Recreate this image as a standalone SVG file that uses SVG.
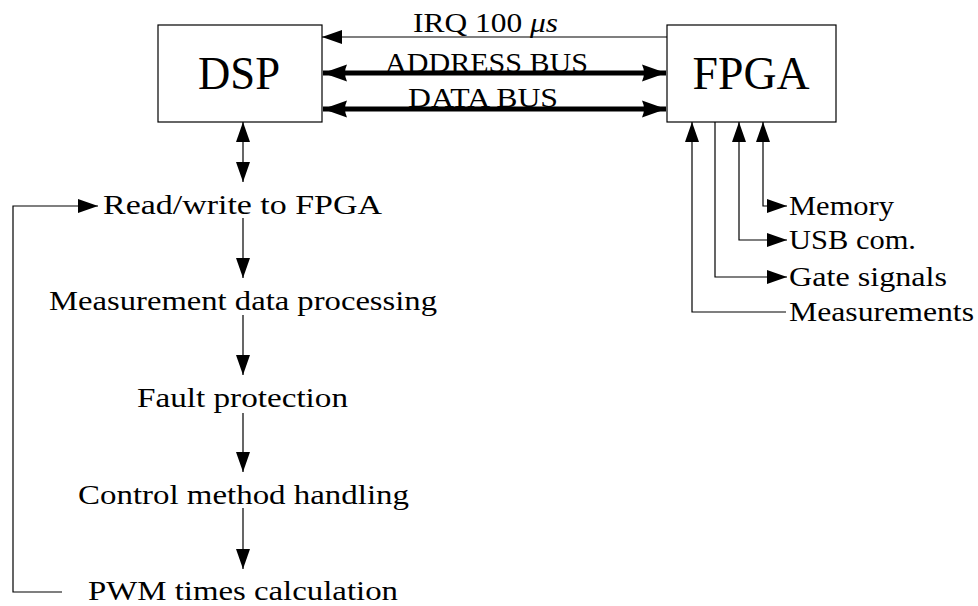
<svg xmlns="http://www.w3.org/2000/svg" width="978" height="606" viewBox="0 0 978 606">
<style>
text{font-family:"Liberation Serif","Times New Roman",serif;fill:#000}
.big{font-size:46px}
.t{font-size:28px}
.box{fill:#fff;stroke:#000;stroke-width:1.2}
.thin{fill:none;stroke:#000;stroke-width:1.2}
.bus{fill:none;stroke:#000;stroke-width:5}
</style>
<defs>
<marker id="ah" markerUnits="userSpaceOnUse" markerWidth="21" markerHeight="15" refX="20" refY="7.5" orient="auto-start-reverse" viewBox="0 0 21 15">
<path d="M0,0.5 L20,7.5 L0,14.5 z" fill="#000"/>
</marker>
<marker id="bh" markerUnits="userSpaceOnUse" markerWidth="25" markerHeight="19" refX="24" refY="9.5" orient="auto-start-reverse" viewBox="0 0 25 19">
<path d="M0,1 Q4,9.5 0,18 L24,9.5 z" fill="#000"/>
</marker>
</defs>
<rect width="978" height="606" fill="#fff"/>
<g id="dsp">
<rect class="box" x="158" y="25" width="164" height="97"/>
<text class="big" x="239" y="89" text-anchor="middle" textLength="82" lengthAdjust="spacingAndGlyphs">DSP</text>
</g>
<g id="fpga">
<rect class="box" x="667" y="25" width="169" height="97"/>
<text class="big" x="751" y="89" text-anchor="middle" textLength="117" lengthAdjust="spacingAndGlyphs">FPGA</text>
</g>
<g id="connectors">
<line class="thin" x1="667" y1="37" x2="322" y2="37" marker-end="url(#ah)"/>
<line class="bus" x1="323" y1="73" x2="666" y2="73" marker-start="url(#bh)" marker-end="url(#bh)"/>
<line class="bus" x1="323" y1="109" x2="666" y2="109" marker-start="url(#bh)" marker-end="url(#bh)"/>
<line class="thin" x1="243" y1="122" x2="243" y2="182" marker-start="url(#ah)" marker-end="url(#ah)"/>
<line class="thin" x1="243" y1="218" x2="243" y2="278" marker-end="url(#ah)"/>
<line class="thin" x1="243" y1="315" x2="243" y2="375" marker-end="url(#ah)"/>
<line class="thin" x1="243" y1="413" x2="243" y2="472" marker-end="url(#ah)"/>
<line class="thin" x1="243" y1="508" x2="243" y2="569" marker-end="url(#ah)"/>
<polyline class="thin" points="62,592 13,592 13,206 98,206" marker-end="url(#ah)"/>
<polyline class="thin" points="692,122 692,312 786,312" marker-start="url(#ah)"/>
<polyline class="thin" points="715,122 715,277 787,277" marker-end="url(#ah)"/>
<polyline class="thin" points="739,122 739,240 787,240" marker-start="url(#ah)" marker-end="url(#ah)"/>
<polyline class="thin" points="763,122 763,206 787,206" marker-start="url(#ah)" marker-end="url(#ah)"/>
<text class="t" x="413" y="32" textLength="145" lengthAdjust="spacingAndGlyphs">IRQ 100 <tspan font-style="italic">μs</tspan></text>
<text class="t" x="385" y="72" textLength="203" lengthAdjust="spacingAndGlyphs">ADDRESS BUS</text>
<text class="t" x="408" y="107" textLength="150" lengthAdjust="spacingAndGlyphs">DATA BUS</text>
</g>
<g id="readwrite"><text class="t" x="103" y="214" textLength="279" lengthAdjust="spacingAndGlyphs">Read/write to FPGA</text></g>
<g id="measproc"><text class="t" x="49" y="310" textLength="388" lengthAdjust="spacingAndGlyphs">Measurement data processing</text></g>
<g id="fault"><text class="t" x="137" y="407" textLength="211" lengthAdjust="spacingAndGlyphs">Fault protection</text></g>
<g id="control"><text class="t" x="78" y="504" textLength="331" lengthAdjust="spacingAndGlyphs">Control method handling</text></g>
<g id="pwm"><text class="t" x="88" y="600" textLength="310" lengthAdjust="spacingAndGlyphs">PWM times calculation</text></g>
<g id="memory"><text class="t" x="789" y="215" textLength="105" lengthAdjust="spacingAndGlyphs">Memory</text></g>
<g id="usb"><text class="t" x="789" y="249" textLength="127" lengthAdjust="spacingAndGlyphs">USB com.</text></g>
<g id="gate"><text class="t" x="789" y="286" textLength="158" lengthAdjust="spacingAndGlyphs">Gate signals</text></g>
<g id="meas"><text class="t" x="789" y="321" textLength="185" lengthAdjust="spacingAndGlyphs">Measurements</text></g>
</svg>
